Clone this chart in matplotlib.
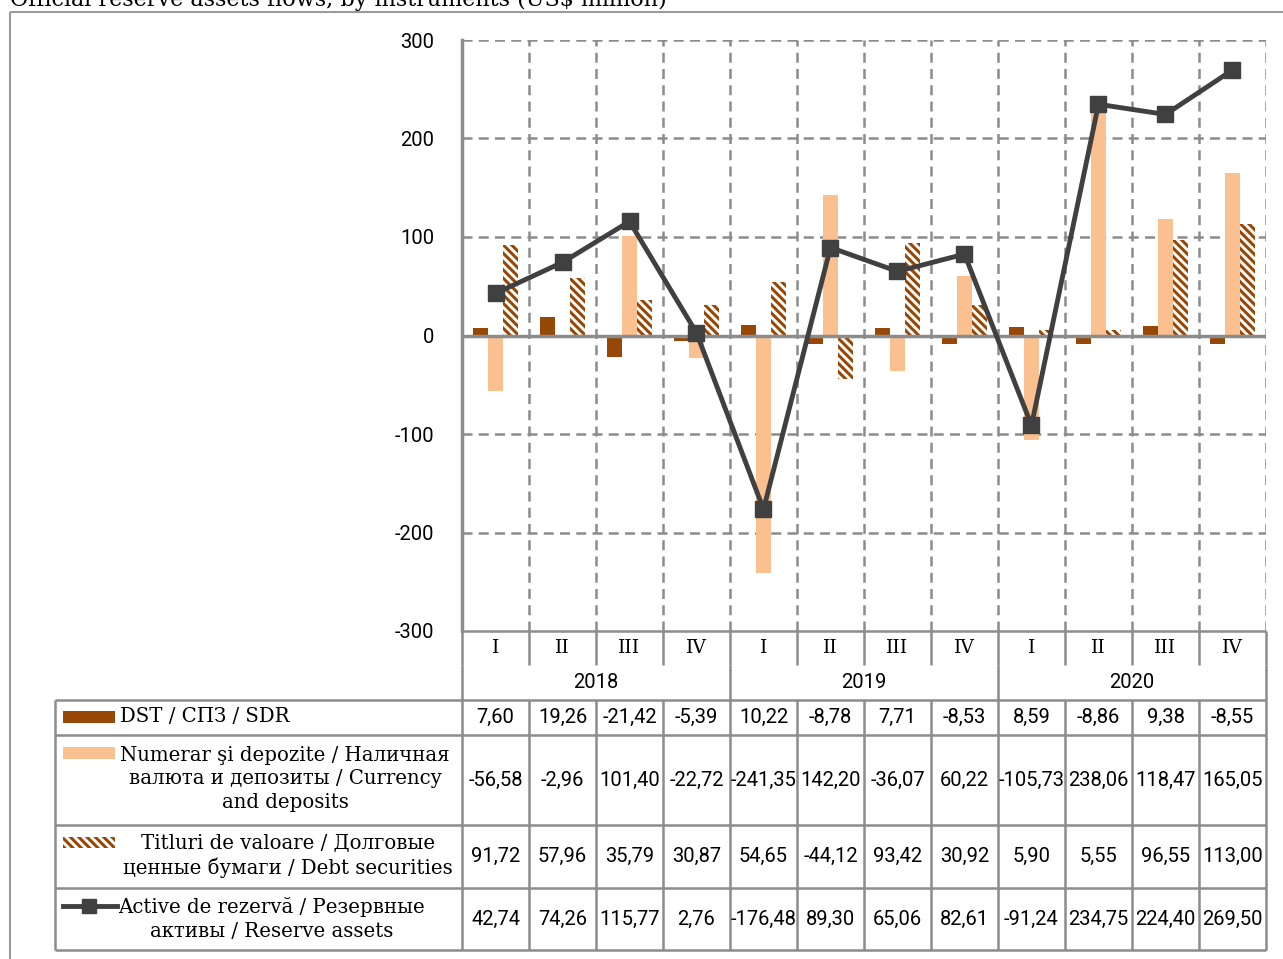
import numpy as np
import matplotlib
matplotlib.use("Agg")
import matplotlib.pyplot as plt
from matplotlib.patches import Rectangle

# Chart data (US$ million)
QUARTERS = ["I", "II", "III", "IV"] * 3
YEARS = ["2018", "2019", "2020"]

sdr = [7.60, 19.26, -21.42, -5.39, 10.22, -8.78, 7.71, -8.53, 8.59, -8.86, 9.38, -8.55]
currency = [-56.58, -2.96, 101.40, -22.72, -241.35, 142.20, -36.07, 60.22,
            -105.73, 238.06, 118.47, 165.05]
securities = [91.72, 57.96, 35.79, 30.87, 54.65, -44.12, 93.42, 30.92,
              5.90, 5.55, 96.55, 113.00]
reserves = [42.74, 74.26, 115.77, 2.76, -176.48, 89.30, 65.06, 82.61,
            -91.24, 234.75, 224.40, 269.50]

LABELS = [
    "DST / СПЗ / SDR",
    "Numerar şi depozite / Наличная\nвалюта и депозиты / Currency\nand deposits",
    "Titluri de valoare / Долговые\nценные бумаги / Debt securities",
    "Active de rezervă / Резервные\nактивы / Reserve assets",
]
TITLE = "Official reserve assets flows, by instruments (US$ million)"

C_SDR = "#974706"
C_CUR = "#FAC090"
C_LINE = "#404040"
C_GRID = "#8c8c8c"

SERIF = "DejaVu Serif"
SANS = "Roboto"

plt.rcParams["axes.unicode_minus"] = False
plt.rcParams["hatch.linewidth"] = 2.2

W, H = 1283, 959
fig = plt.figure(figsize=(W / 100, H / 100), dpi=100)

# overlay in pixel coordinates for the frame and the data table
ov = fig.add_axes([0, 0, 1, 1])
ov.set_xlim(0, W)
ov.set_ylim(H, 0)
ov.axis("off")

# layout (pixels)
x0, x1 = 462, 1266
y_top, y_bot = 40, 631
ncol = len(QUARTERS)
cw = (x1 - x0) / ncol
rows = [700, 735, 825, 888, 950]
tab_left = 55

# outer frame
ov.add_patch(Rectangle((10, 12), 1290, 1000, fill=False, ec="#9a9a9a", lw=1.5))
ov.text(10, 6, TITLE, family=SERIF, fontsize=16, va="baseline", ha="left")

gk = dict(color=C_GRID, lw=1.8, solid_capstyle="butt")
# quarter / year rows
for i in range(ncol + 1):
    xi = x0 + i * cw
    ov.plot([xi, xi], [y_bot, 665], **gk)
for i in range(0, ncol + 1, 4):
    xi = x0 + i * cw
    ov.plot([xi, xi], [665, rows[0]], **gk)
for i, q in enumerate(QUARTERS):
    ov.text(x0 + (i + 0.5) * cw, 648, q, family=SERIF, fontsize=13.5,
            ha="center", va="center")
for k, yr in enumerate(YEARS):
    ov.text(x0 + (4 * k + 2) * cw, 682, yr, family=SANS, fontsize=14.5,
            ha="center", va="center")

# table grid
ov.plot([x0, x1], [y_bot, y_bot], **gk)
for y in rows:
    ov.plot([tab_left, x1], [y, y], **gk)
ov.plot([tab_left, tab_left], [rows[0], rows[-1]], **gk)
for i in range(ncol + 1):
    xi = x0 + i * cw
    ov.plot([xi, xi], [rows[0], rows[-1]], **gk)

# table values
table = [sdr, currency, securities, reserves]
for r, vals in enumerate(table):
    yc = (rows[r] + rows[r + 1]) / 2
    for i, v in enumerate(vals):
        s = f"{v:.2f}".replace(".", ",")
        ov.text(x0 + (i + 0.5) * cw, yc, s, family=SANS, fontsize=14.5,
                ha="center", va="center")

# legend keys inside the label column
ov.add_patch(Rectangle((63, 711), 52, 12, fc=C_SDR, ec="none"))
ov.add_patch(Rectangle((63, 747), 52, 12, fc=C_CUR, ec="none"))
ov.add_patch(Rectangle((63, 837), 52, 11, fc="white", ec=C_SDR, hatch="\\\\\\\\", lw=0))
ov.plot([63, 117], [906, 906], color=C_LINE, lw=3.5)
ov.plot([89], [906], marker="s", ms=10, color=C_LINE)

# row labels
lab = dict(family=SERIF, fontsize=14.2, va="center", linespacing=1.32)
ov.text(120, 717, LABELS[0], ha="left", **lab)
ov.text(285, 779, LABELS[1], ha="center", **lab)
ov.text(288, 856, LABELS[2], ha="center", **lab)
ov.text(272, 919, LABELS[3], ha="center", **lab)

# main chart
ax = fig.add_axes([x0 / W, 1 - y_bot / H, (x1 - x0) / W, (y_bot - y_top) / H])
ax.set_facecolor("none")
x = np.arange(ncol)
bw = 0.22
ax.bar(x - bw, sdr, bw, color=C_SDR, zorder=3)
ax.bar(x, currency, bw, color=C_CUR, zorder=3)
ax.bar(x + bw, securities, bw, color="white", edgecolor=C_SDR, hatch="\\\\\\\\",
       linewidth=0, zorder=3)
ax.plot(x, reserves, color=C_LINE, lw=3.5, marker="s", ms=11, zorder=5)

ax.set_xlim(-0.5, ncol - 0.5)
ax.set_ylim(-300, 300)
ax.set_yticks(np.arange(-300, 301, 100))
ax.set_xticks([])
for yv in range(-200, 301, 100):
    if yv != 0:
        ax.axhline(yv, color=C_GRID, lw=1.8, ls=(0, (4, 2.5)), zorder=1)
for i in range(1, ncol + 1):
    ax.axvline(i - 0.5, color=C_GRID, lw=1.8, ls=(0, (4, 2.5)), zorder=1)
ax.axhline(0, color=C_GRID, lw=2.5, zorder=4)
for side in ["top", "right", "bottom"]:
    ax.spines[side].set_visible(False)
ax.spines["left"].set_color(C_GRID)
ax.spines["left"].set_linewidth(2.5)
ax.tick_params(axis="y", length=0, pad=20, labelsize=14.5)
for t in ax.get_yticklabels():
    t.set_family(SANS)

fig.savefig("out.png", dpi=100)
